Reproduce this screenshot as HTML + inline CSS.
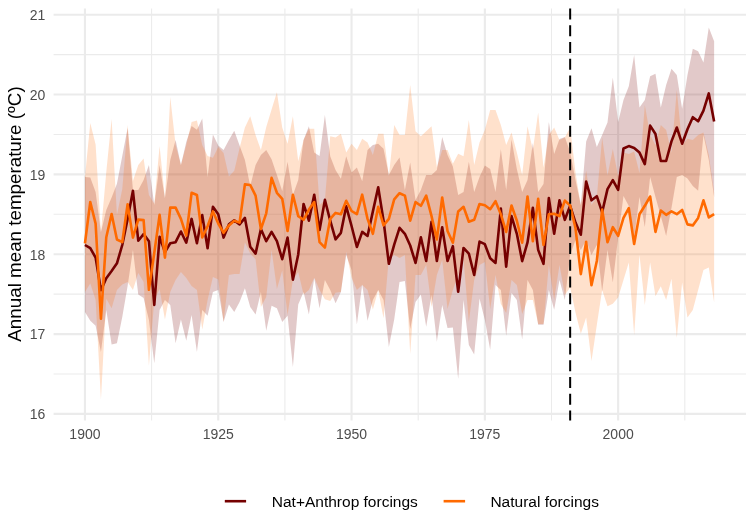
<!DOCTYPE html>
<html><head><meta charset="utf-8"><style>
html,body{margin:0;padding:0;background:#fff;width:754px;height:532px;overflow:hidden}
svg{display:block;will-change:transform}
text{font-family:"Liberation Sans",sans-serif}
.tk{font-size:14px;fill:#4d4d4d}
.ttl{font-size:18.8px;fill:#000}
.lg{font-size:15.5px;fill:#000}
</style></head><body>
<svg width="754" height="532" viewBox="0 0 754 532">
<rect width="754" height="532" fill="#fff"/>
<line x1="53.6" x2="746.0" y1="373.98" y2="373.98" stroke="#ebebeb" stroke-width="1.07"/><line x1="53.6" x2="746.0" y1="294.14" y2="294.14" stroke="#ebebeb" stroke-width="1.07"/><line x1="53.6" x2="746.0" y1="214.30" y2="214.30" stroke="#ebebeb" stroke-width="1.07"/><line x1="53.6" x2="746.0" y1="134.46" y2="134.46" stroke="#ebebeb" stroke-width="1.07"/><line x1="53.6" x2="746.0" y1="54.62" y2="54.62" stroke="#ebebeb" stroke-width="1.07"/><line x1="53.6" x2="746.0" y1="413.90" y2="413.90" stroke="#ebebeb" stroke-width="2.13"/><line x1="53.6" x2="746.0" y1="334.06" y2="334.06" stroke="#ebebeb" stroke-width="2.13"/><line x1="53.6" x2="746.0" y1="254.22" y2="254.22" stroke="#ebebeb" stroke-width="2.13"/><line x1="53.6" x2="746.0" y1="174.38" y2="174.38" stroke="#ebebeb" stroke-width="2.13"/><line x1="53.6" x2="746.0" y1="94.54" y2="94.54" stroke="#ebebeb" stroke-width="2.13"/><line x1="53.6" x2="746.0" y1="14.70" y2="14.70" stroke="#ebebeb" stroke-width="2.13"/><line x1="151.60" x2="151.60" y1="8.4" y2="420.5" stroke="#ebebeb" stroke-width="1.07"/><line x1="284.90" x2="284.90" y1="8.4" y2="420.5" stroke="#ebebeb" stroke-width="1.07"/><line x1="418.20" x2="418.20" y1="8.4" y2="420.5" stroke="#ebebeb" stroke-width="1.07"/><line x1="551.50" x2="551.50" y1="8.4" y2="420.5" stroke="#ebebeb" stroke-width="1.07"/><line x1="684.80" x2="684.80" y1="8.4" y2="420.5" stroke="#ebebeb" stroke-width="1.07"/><line x1="84.95" x2="84.95" y1="8.4" y2="420.5" stroke="#ebebeb" stroke-width="2.13"/><line x1="218.25" x2="218.25" y1="8.4" y2="420.5" stroke="#ebebeb" stroke-width="2.13"/><line x1="351.55" x2="351.55" y1="8.4" y2="420.5" stroke="#ebebeb" stroke-width="2.13"/><line x1="484.85" x2="484.85" y1="8.4" y2="420.5" stroke="#ebebeb" stroke-width="2.13"/><line x1="618.15" x2="618.15" y1="8.4" y2="420.5" stroke="#ebebeb" stroke-width="2.13"/>
<polygon points="84.95,177.0 90.28,177.5 95.61,192.0 100.95,232.0 106.28,210.0 111.61,197.5 116.94,183.7 122.27,156.0 127.61,128.0 132.94,190.0 138.27,190.0 143.60,180.0 148.93,165.0 154.27,205.0 159.60,165.0 164.93,198.0 170.26,160.0 175.59,140.0 180.93,165.0 186.26,141.9 191.59,126.0 196.92,129.8 202.25,118.6 207.59,177.0 212.92,134.4 218.25,145.6 223.58,150.0 228.91,140.0 234.25,130.7 239.58,145.6 244.91,160.0 250.24,186.0 255.57,165.0 260.91,155.0 266.24,150.0 271.57,159.2 276.90,175.0 282.23,191.0 287.57,161.7 292.90,195.0 298.23,180.0 303.56,140.0 308.89,126.3 314.23,152.5 319.56,156.0 324.89,115.0 330.22,156.3 335.55,170.0 340.89,178.8 346.22,156.3 351.55,172.5 356.88,167.5 362.21,181.3 367.55,150.0 372.88,145.0 378.21,143.8 383.54,148.8 388.87,175.0 394.21,165.0 399.54,157.5 404.87,190.0 410.20,162.5 415.53,200.0 420.87,190.0 426.20,175.0 431.53,175.0 436.86,170.0 442.19,137.0 447.53,155.0 452.86,166.6 458.19,195.0 463.52,192.0 468.85,161.7 474.19,192.0 479.52,177.0 484.85,165.4 490.18,169.0 495.51,192.0 500.85,149.3 506.18,190.0 511.51,139.4 516.84,169.0 522.17,192.0 527.51,180.0 532.84,143.0 538.17,192.0 543.50,184.0 548.83,122.0 554.17,154.0 559.50,139.0 564.83,136.9 570.16,152.0 575.49,180.0 580.83,205.0 586.16,141.4 591.49,128.2 596.82,147.1 602.15,135.0 607.49,122.5 612.82,77.5 618.15,122.0 623.48,100.0 628.81,86.3 634.15,55.0 639.48,107.5 644.81,100.0 650.14,76.3 655.47,73.8 660.81,107.5 666.14,85.0 671.47,68.8 676.80,75.0 682.13,108.8 687.47,75.0 692.80,48.8 698.13,51.3 703.46,62.5 708.79,27.5 714.13,41.3 714.13,197.0 708.79,160.0 703.46,135.0 698.13,190.7 692.80,186.0 687.47,178.6 682.13,175.0 676.80,177.0 671.47,208.0 666.14,236.0 660.81,216.0 655.47,197.0 650.14,177.0 644.81,227.0 639.48,197.0 634.15,238.0 628.81,206.0 623.48,196.0 618.15,237.5 612.82,282.5 607.49,250.0 602.15,291.3 596.82,245.0 591.49,255.0 586.16,240.0 580.83,250.0 575.49,240.0 570.16,255.0 564.83,300.0 559.50,280.0 554.17,309.8 548.83,290.0 543.50,324.7 538.17,324.7 532.84,290.0 527.51,280.0 522.17,339.6 516.84,300.0 511.51,293.0 506.18,335.8 500.85,290.0 495.51,285.0 490.18,349.8 484.85,320.0 479.52,298.6 474.19,354.4 468.85,345.0 463.52,300.0 458.19,379.0 452.86,327.5 447.53,328.0 442.19,305.0 436.86,341.7 431.53,295.0 426.20,326.8 420.87,294.6 415.53,302.0 410.20,329.0 404.87,281.0 399.54,282.0 394.21,319.5 388.87,347.0 383.54,300.0 378.21,290.0 372.88,300.0 367.55,320.8 362.21,284.5 356.88,324.5 351.55,270.0 346.22,255.0 340.89,292.0 335.55,303.3 330.22,290.0 324.89,280.0 319.56,308.3 314.23,278.3 308.89,314.5 303.56,292.0 298.23,304.5 292.90,367.0 287.57,315.8 282.23,322.0 276.90,308.3 271.57,305.8 266.24,330.8 260.91,292.0 255.57,314.5 250.24,307.0 244.91,288.3 239.58,302.0 234.25,312.0 228.91,304.5 223.58,322.0 218.25,290.0 212.92,292.0 207.59,315.8 202.25,310.0 196.92,352.0 191.59,315.0 186.26,340.8 180.93,319.5 175.59,343.3 170.26,305.0 164.93,300.0 159.60,310.0 154.27,363.3 148.93,320.0 143.60,298.0 138.27,294.5 132.94,250.0 127.61,286.0 122.27,317.0 116.94,343.3 111.61,344.5 106.28,310.0 100.95,352.0 95.61,325.8 90.28,320.8 84.95,312.0" fill="#750000" fill-opacity="0.21"/>
<polygon points="84.95,177.0 90.28,123.0 95.61,144.5 100.95,232.0 106.28,172.0 111.61,119.0 116.94,215.0 122.27,189.0 127.61,125.0 132.94,181.0 138.27,165.0 143.60,158.6 148.93,195.0 154.27,203.8 159.60,146.0 164.93,198.2 170.26,97.0 175.59,145.0 180.93,165.0 186.26,145.0 191.59,122.0 196.92,120.5 202.25,145.0 207.59,156.0 212.92,157.7 218.25,147.0 223.58,153.0 228.91,176.6 234.25,170.8 239.58,148.0 244.91,127.5 250.24,116.3 255.57,135.0 260.91,150.0 266.24,127.0 271.57,109.6 276.90,92.2 282.23,127.5 287.57,143.8 292.90,116.3 298.23,161.3 303.56,140.0 308.89,128.8 314.23,128.8 319.56,205.0 324.89,200.0 330.22,136.3 335.55,137.5 340.89,133.8 346.22,152.5 351.55,143.8 356.88,150.0 362.21,138.8 367.55,142.5 372.88,155.0 378.21,133.8 383.54,133.8 388.87,176.3 394.21,125.0 399.54,135.0 404.87,135.0 410.20,85.0 415.53,131.3 420.87,136.3 426.20,131.3 431.53,126.3 436.86,167.5 442.19,150.0 447.53,150.0 452.86,163.8 458.19,153.8 463.52,156.3 468.85,120.0 474.19,165.0 479.52,142.5 484.85,130.0 490.18,110.0 495.51,110.0 500.85,125.0 506.18,145.0 511.51,132.5 516.84,152.5 522.17,175.0 527.51,126.3 532.84,150.0 538.17,112.5 543.50,167.5 548.83,135.0 554.17,127.5 559.50,140.0 564.83,137.5 570.16,127.5 575.49,172.5 580.83,205.0 586.16,170.4 591.49,205.0 596.82,197.0 602.15,137.6 607.49,175.4 612.82,149.0 618.15,176.3 623.48,152.5 628.81,154.0 634.15,151.5 639.48,173.0 644.81,105.0 650.14,135.0 655.47,145.0 660.81,125.0 666.14,130.0 671.47,152.5 676.80,90.0 682.13,145.0 687.47,138.8 692.80,140.0 698.13,135.0 703.46,132.5 708.79,155.0 714.13,192.5 714.13,302.5 708.79,267.5 703.46,270.0 698.13,290.0 692.80,310.0 687.47,317.5 682.13,282.5 676.80,338.0 671.47,278.8 666.14,300.0 660.81,286.3 655.47,296.3 650.14,262.5 644.81,305.0 639.48,255.0 634.15,335.0 628.81,262.5 623.48,280.0 618.15,297.5 612.82,303.8 607.49,306.3 602.15,290.0 596.82,325.0 591.49,361.0 586.16,317.5 580.83,333.8 575.49,312.5 570.16,287.5 564.83,295.0 559.50,265.0 554.17,300.0 548.83,265.0 543.50,324.0 538.17,324.0 532.84,300.0 527.51,300.0 522.17,314.0 516.84,285.0 511.51,280.0 506.18,313.0 500.85,304.0 495.51,275.0 490.18,309.0 484.85,262.0 479.52,265.0 474.19,280.0 468.85,322.0 463.52,260.0 458.19,275.0 452.86,290.0 447.53,309.0 442.19,260.0 436.86,275.0 431.53,307.0 426.20,265.0 420.87,275.0 415.53,275.0 410.20,354.0 404.87,255.0 399.54,258.0 394.21,255.0 388.87,258.0 383.54,318.3 378.21,290.0 372.88,309.5 367.55,290.0 362.21,285.0 356.88,290.0 351.55,277.8 346.22,251.7 340.89,292.0 335.55,292.7 330.22,301.0 324.89,299.2 319.56,290.0 314.23,277.8 308.89,290.0 303.56,294.6 298.23,272.0 292.90,280.0 287.57,315.0 282.23,270.4 276.90,289.0 271.57,249.9 266.24,297.0 260.91,307.0 255.57,259.2 250.24,253.6 244.91,242.4 239.58,274.0 234.25,274.0 228.91,275.0 223.58,322.0 218.25,279.5 212.92,277.0 207.59,300.0 202.25,329.5 196.92,290.0 191.59,286.0 186.26,278.0 180.93,272.0 175.59,280.0 170.26,292.0 164.93,319.5 159.60,289.0 154.27,300.0 148.93,365.8 143.60,282.0 138.27,273.0 132.94,290.0 127.61,282.0 122.27,284.5 116.94,290.0 111.61,308.3 106.28,298.8 100.95,399.5 95.61,300.0 90.28,283.6 84.95,292.0" fill="#ff6a00" fill-opacity="0.2"/>
<polyline points="84.95,245.0 90.28,248.2 95.61,257.6 100.95,290.3 106.28,278.2 111.61,271.0 116.94,263.3 122.27,245.0 127.61,219.0 132.94,190.8 138.27,240.7 143.60,234.1 148.93,241.2 154.27,305.0 159.60,236.8 164.93,252.0 170.26,243.3 175.59,242.2 180.93,231.5 186.26,242.7 191.59,218.9 196.92,243.3 202.25,215.1 207.59,248.3 212.92,206.8 218.25,214.2 223.58,237.6 228.91,224.4 234.25,220.4 239.58,224.4 244.91,217.9 250.24,246.8 255.57,253.6 260.91,229.1 266.24,241.2 271.57,231.9 276.90,241.2 282.23,259.2 287.57,237.6 292.90,279.7 298.23,254.5 303.56,204.0 308.89,220.7 314.23,194.7 319.56,230.0 324.89,199.9 330.22,220.7 335.55,239.3 340.89,232.8 346.22,206.3 351.55,226.0 356.88,247.0 362.21,231.9 367.55,236.0 372.88,211.4 378.21,187.2 383.54,220.7 388.87,263.8 394.21,244.6 399.54,227.8 404.87,233.8 410.20,245.5 415.53,262.9 420.87,237.2 426.20,261.0 431.53,221.7 436.86,261.0 442.19,227.2 447.53,261.0 452.86,246.2 458.19,291.8 463.52,248.0 468.85,253.6 474.19,275.0 479.52,241.6 484.85,244.2 490.18,258.3 495.51,262.9 500.85,208.6 506.18,266.6 511.51,216.1 516.84,233.8 522.17,261.1 527.51,242.4 532.84,207.7 538.17,249.9 543.50,263.8 548.83,198.0 554.17,233.8 559.50,200.3 564.83,219.8 570.16,205.8 575.49,222.6 580.83,234.7 586.16,181.6 591.49,200.3 596.82,196.2 602.15,212.3 607.49,189.1 612.82,180.2 618.15,189.8 623.48,148.5 628.81,146.1 634.15,147.9 639.48,152.6 644.81,164.1 650.14,125.6 655.47,134.0 660.81,161.0 666.14,161.0 671.47,141.4 676.80,127.5 682.13,143.7 687.47,129.3 692.80,117.2 698.13,121.3 703.46,110.7 708.79,93.4 714.13,121.5" fill="none" stroke="#750000" stroke-width="2.6" stroke-linejoin="round"/>
<polyline points="84.95,243.4 90.28,202.0 95.61,223.6 100.95,318.7 106.28,237.2 111.61,214.0 116.94,239.5 122.27,242.2 127.61,204.2 132.94,237.6 138.27,219.6 143.60,220.1 148.93,289.8 154.27,253.0 159.60,214.9 164.93,257.6 170.26,207.6 175.59,207.6 180.93,218.9 186.26,235.6 191.59,192.8 196.92,195.0 202.25,237.5 207.59,226.3 212.92,211.4 218.25,223.5 223.58,232.8 228.91,225.4 234.25,220.7 239.58,222.6 244.91,184.4 250.24,185.0 255.57,195.6 260.91,229.1 266.24,213.3 271.57,177.9 276.90,192.8 282.23,198.8 287.57,231.0 292.90,194.7 298.23,216.1 303.56,219.8 308.89,209.6 314.23,202.1 319.56,242.2 324.89,247.6 330.22,218.9 335.55,212.9 340.89,214.2 346.22,200.8 351.55,211.0 356.88,214.2 362.21,194.7 367.55,218.9 372.88,233.8 378.21,206.8 383.54,225.4 388.87,218.9 394.21,199.3 399.54,193.2 404.87,195.6 410.20,220.7 415.53,202.1 420.87,205.8 426.20,195.6 431.53,216.1 436.86,239.5 442.19,197.5 447.53,231.0 452.86,242.7 458.19,211.4 463.52,206.8 468.85,221.7 474.19,219.8 479.52,204.0 484.85,205.3 490.18,209.2 495.51,201.2 500.85,214.2 506.18,231.9 511.51,205.5 516.84,220.7 522.17,242.7 527.51,196.5 532.84,241.3 538.17,198.8 543.50,245.0 548.83,214.2 554.17,213.7 559.50,216.1 564.83,200.6 570.16,205.5 575.49,228.2 580.83,274.1 586.16,241.8 591.49,285.3 596.82,261.0 602.15,209.6 607.49,242.2 612.82,227.2 618.15,235.8 623.48,217.9 628.81,208.1 634.15,244.0 639.48,214.2 644.81,205.8 650.14,196.5 655.47,231.9 660.81,210.5 666.14,214.8 671.47,211.4 676.80,214.2 682.13,209.9 687.47,224.4 692.80,225.4 698.13,217.9 703.46,200.3 708.79,217.4 714.13,214.2" fill="none" stroke="#ff6a00" stroke-width="2.6" stroke-linejoin="round"/>
<line x1="570.16" x2="570.16" y1="8.4" y2="420.5" stroke="#000" stroke-width="2" stroke-dasharray="11.2 5.55"/>
<text x="45.3" y="419.20" text-anchor="end" class="tk">16</text><text x="45.3" y="339.36" text-anchor="end" class="tk">17</text><text x="45.3" y="259.52" text-anchor="end" class="tk">18</text><text x="45.3" y="179.68" text-anchor="end" class="tk">19</text><text x="45.3" y="99.84" text-anchor="end" class="tk">20</text><text x="45.3" y="20.00" text-anchor="end" class="tk">21</text><text x="84.95" y="439.3" text-anchor="middle" class="tk">1900</text><text x="218.25" y="439.3" text-anchor="middle" class="tk">1925</text><text x="351.55" y="439.3" text-anchor="middle" class="tk">1950</text><text x="484.85" y="439.3" text-anchor="middle" class="tk">1975</text><text x="618.15" y="439.3" text-anchor="middle" class="tk">2000</text>
<text class="ttl" transform="translate(21.4,214.0) rotate(-90)" text-anchor="middle">Annual mean temperature (ºC)</text>
<line x1="224.8" x2="246.1" y1="501.2" y2="501.2" stroke="#750000" stroke-width="2.6"/>
<text x="271.8" y="507.1" class="lg">Nat+Anthrop forcings</text>
<line x1="443.6" x2="465.1" y1="501.2" y2="501.2" stroke="#ff6a00" stroke-width="2.6"/>
<text x="490.4" y="507.1" class="lg">Natural forcings</text>
</svg>
</body></html>
